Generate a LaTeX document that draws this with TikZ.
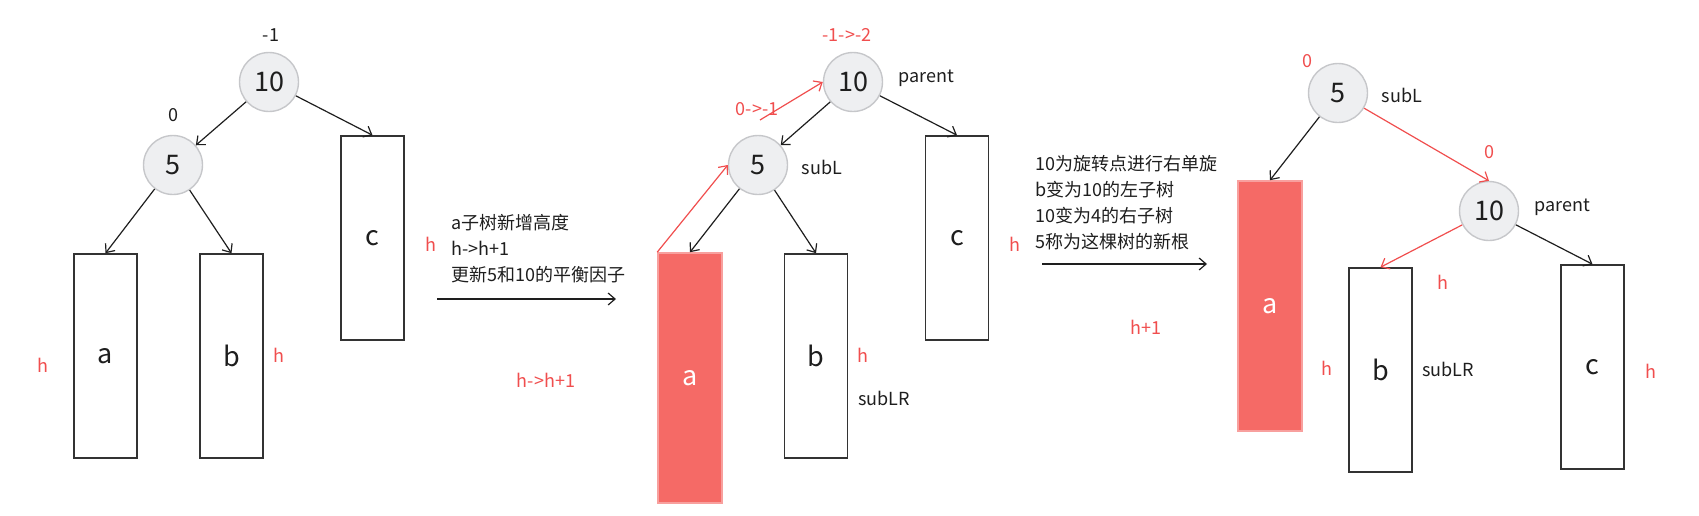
\documentclass[tikz,border=0pt]{standalone}
\usepackage{fontspec}
\setmainfont{Noto Sans CJK SC}
\usetikzlibrary{arrows.meta}
\definecolor{ink}{RGB}{30,30,30}
\definecolor{boxline}{RGB}{51,51,51}
\definecolor{ringgray}{RGB}{198,199,202}
\definecolor{nodegray}{RGB}{238,239,241}
\definecolor{warn}{RGB}{240,78,78}
\definecolor{hotred}{RGB}{245,106,102}
\definecolor{hotline}{RGB}{248,160,158}

\begin{document}
\begin{tikzpicture}[x=.5pt,y=-.5pt,
  key/.style={circle,draw=ringgray,fill=nodegray,line width=.7pt,minimum size=29.5pt,inner sep=0pt,text=ink,font=\fontsize{13.5}{16}\selectfont},
  subtree/.style={draw=boxline,line width=.8pt,minimum width=31.5pt,minimum height=102pt,inner sep=0pt,text=ink,font=\fontsize{13.5}{16}\selectfont},
  grown/.style={subtree,draw=hotline,fill=hotred,text=white,minimum width=32pt,minimum height=125pt},
  lab/.style={inner sep=0pt,text=ink,font=\fontsize{9}{13}\selectfont},
  rlab/.style={lab,text=warn},
  link/.style={-{Straight Barb[length=3.5pt,width=6pt]},line width=.6pt,ink},
  rlink/.style={link,warn}]
\useasboundingbox (0,0) rectangle (1699,515);

\node[key] (p1) at (269,82) {10};
\node[key] (l1) at (173,165) {5};
\node[subtree] (a1) at (105.5,356) {a};
\node[subtree] (b1) at (231.5,356) {b};
\node[subtree] (c1) at (372.5,238) {c};
\node[lab] (bf1) at (271,35) {-1};
\node[lab] (bf2) at (173,115) {0};
\node[rlab] (ha1) at (43,365) {h};
\node[rlab] (hb1) at (279,355) {h};
\node[rlab] (hc1) at (431,244) {h};
\draw[link] (p1) -- (l1);
\draw[link] (p1) -- (c1.north);
\draw[link] (l1) -- (a1.north);
\draw[link] (l1) -- (b1.north);

\node[lab,anchor=west,align=left] (note1) at (451,249) {a子树新增高度\\h->h+1\\更新5和10的平衡因子};
\coordinate (s1) at (437,299);
\coordinate (e1) at (616,299);
\draw[link] (s1) -- (e1);
\node[rlab] (grow1) at (546,380) {h->h+1};

\node[key] (p2) at (853,82) {10};
\node[key] (l2) at (758,165) {5};
\node[grown] (a2) at (690,378) {a};
\node[subtree] (b2) at (816,356) {b};
\node[subtree] (c2) at (957,238) {c};
\node[rlab] (bf3) at (847,35) {-1->-2};
\node[rlab] (bf4) at (757,109) {0->-1};
\node[lab] (name1) at (926,78) {parent};
\node[lab] (name2) at (822,167) {subL};
\node[lab] (name3) at (884,398) {subLR};
\node[rlab] (hb2) at (863,355) {h};
\node[rlab] (hc2) at (1015,244) {h};
\draw[link] (p2) -- (l2);
\draw[link] (p2) -- (c2.north);
\draw[link] (l2) -- (a2.north);
\draw[link] (l2) -- (b2.north);
\draw[rlink] (a2.north west) -- (l2.west);
\coordinate (t2) at (760,120);
\draw[rlink] (t2) -- (p2.west);

\node[lab,anchor=west,align=left] (note2) at (1035,202.5) {10为旋转点进行右单旋\\b变为10的左子树\\10变为4的右子树\\5称为这棵树的新根};
\coordinate (s2) at (1042,264);
\coordinate (e2) at (1207,264);
\draw[link] (s2) -- (e2);
\node[rlab] (grow2) at (1146,327) {h+1};

\node[key] (l3) at (1338,93) {5};
\node[key] (p3) at (1489,211) {10};
\node[grown] (a3) at (1270,306) {a};
\node[subtree] (b3) at (1380.5,370) {b};
\node[subtree] (c3) at (1592.5,367) {c};
\node[rlab] (bf5) at (1307,61) {0};
\node[rlab] (bf6) at (1489,152) {0};
\node[lab] (name4) at (1402,95) {subL};
\node[lab] (name5) at (1562,207) {parent};
\node[lab] (name6) at (1448,369) {subLR};
\node[rlab] (hb3) at (1443,282) {h};
\node[rlab] (ha3) at (1327,368) {h};
\node[rlab] (hc3) at (1651,371) {h};
\draw[link] (l3) -- (a3.north);
\draw[rlink] (l3) -- (p3.north);
\draw[rlink] (p3) -- (b3.north);
\draw[link] (p3) -- (c3.north);
\end{tikzpicture}
\end{document}
